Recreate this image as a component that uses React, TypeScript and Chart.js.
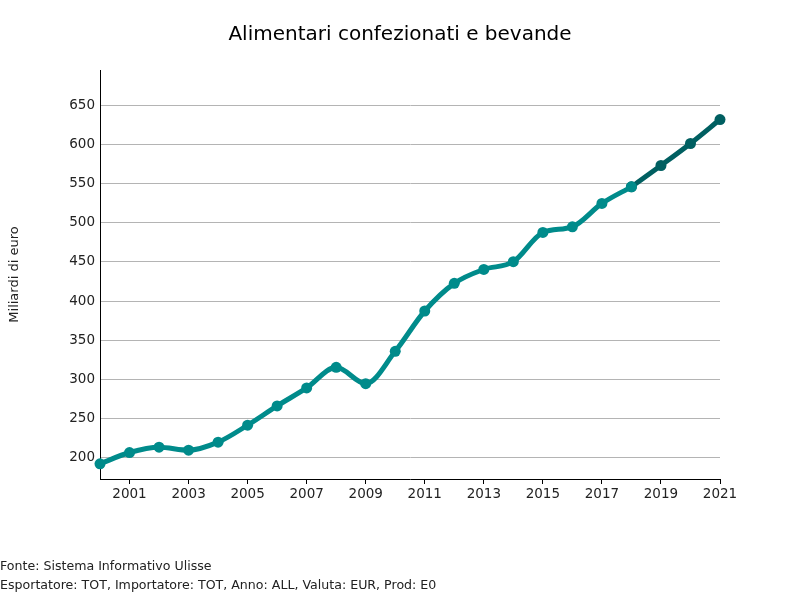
import React, { useEffect, useRef } from "react";
import { Chart, registerables } from "chart.js";

Chart.register(...registerables);

const titleText = "Alimentari confezionati e bevande";
const yAxisTitle = "Miliardi di euro";
const footnotes = [
  "Fonte: Sistema Informativo Ulisse",
  "Esportatore: TOT, Importatore: TOT, Anno: ALL, Valuta: EUR, Prod: E0",
];

const historicalYears = [2000, 2001, 2002, 2003, 2004, 2005, 2006, 2007, 2008, 2009, 2010, 2011, 2012, 2013, 2014, 2015, 2016, 2017, 2018];
const historicalValues = [192.4, 206.8, 213.6, 209.8, 220.0, 241.7, 266.3, 289.2, 315.6, 294.7, 336.0, 387.4, 422.7, 440.5, 450.3, 487.7, 494.9, 524.7, 545.9];
const forecastYears = [2018, 2019, 2020, 2021];
const forecastValues = [545.9, 573.1, 601.2, 631.8];

const xTicks = [2001, 2003, 2005, 2007, 2009, 2011, 2013, 2015, 2017, 2019, 2021];
const yTicks = [200, 250, 300, 350, 400, 450, 500, 550, 600, 650];

const FONT = "'DejaVu Sans', sans-serif";

export default function App() {
  const ref = useRef<HTMLCanvasElement | null>(null);

  useEffect(() => {
    if (!ref.current) return;
    const chart = new Chart(ref.current, {
      type: "line",
      data: {
        datasets: [
          {
            label: "Storico",
            data: historicalYears.map((x, i) => ({ x, y: historicalValues[i] })),
            borderColor: "#008B8B",
            backgroundColor: "#008B8B",
            borderWidth: 5,
            pointRadius: 5.5,
            pointBorderWidth: 0,
            cubicInterpolationMode: "monotone",
            clip: false,
          },
          {
            label: "Previsione",
            data: forecastYears.map((x, i) => ({ x, y: forecastValues[i] })),
            borderColor: "#005F61",
            backgroundColor: "#005F61",
            borderWidth: 5,
            pointRadius: 5.5,
            pointBorderWidth: 0,
            cubicInterpolationMode: "monotone",
            clip: false,
          },
        ],
      },
      options: {
        animation: false,
        responsive: false,
        maintainAspectRatio: false,
        layout: { padding: { left: 0, right: 80, top: 70, bottom: 91 } },
        plugins: {
          legend: { display: false },
          tooltip: { enabled: false },
          title: { display: false },
        },
        scales: {
          x: {
            type: "linear",
            min: 2000,
            max: 2021,
            afterBuildTicks: (scale: any) => {
              scale.ticks = xTicks.map((v) => ({ value: v }));
            },
            afterFit: (scale: any) => {
              scale.height = 30;
            },
            grid: {
              drawOnChartArea: false,
              drawTicks: true,
              tickLength: 5,
              color: "#000",
            },
            border: { color: "#000", width: 1 },
            ticks: {
              color: "#222",
              font: { family: FONT, size: 13.5 },
              padding: 2,
              maxRotation: 0,
              autoSkip: false,
              callback: (v: any) => String(v),
            },
          },
          y: {
            type: "linear",
            min: 173,
            max: 695,
            afterBuildTicks: (scale: any) => {
              scale.ticks = yTicks.map((v) => ({ value: v }));
            },
            afterFit: (scale: any) => {
              scale.width = 100;
            },
            grid: {
              drawTicks: false,
              color: "#b4b4b4",
              lineWidth: 1,
            },
            border: { color: "#000", width: 1 },
            title: {
              display: true,
              text: yAxisTitle,
              color: "#222",
              font: { family: FONT, size: 13 },
              padding: { top: 7, bottom: 0 },
            },
            ticks: {
              color: "#222",
              font: { family: FONT, size: 13.5 },
              padding: 5,
              autoSkip: false,
              callback: (v: any) => String(v),
            },
          },
        },
      },
    });
    return () => chart.destroy();
  }, []);

  return (
    <div style={{ position: "fixed", left: 0, top: 0, width: 800, height: 600, background: "#fff" }}>
      <canvas ref={ref} width={800} height={600} style={{ position: "absolute", left: 0, top: 0 }} />
      <div
        style={{
          position: "absolute",
          left: 0,
          top: 20,
          width: 800,
          textAlign: "center",
          fontFamily: FONT,
          fontSize: 20,
          color: "#000",
          lineHeight: "26px",
        }}
      >
        {titleText}
      </div>
      {footnotes.map((t, i) => (
        <div
          key={i}
          style={{
            position: "absolute",
            left: 0,
            top: 557 + i * 19,
            fontFamily: FONT,
            fontSize: 12.6,
            color: "#222",
            lineHeight: "18px",
            whiteSpace: "nowrap",
          }}
        >
          {t}
        </div>
      ))}
    </div>
  );
}
